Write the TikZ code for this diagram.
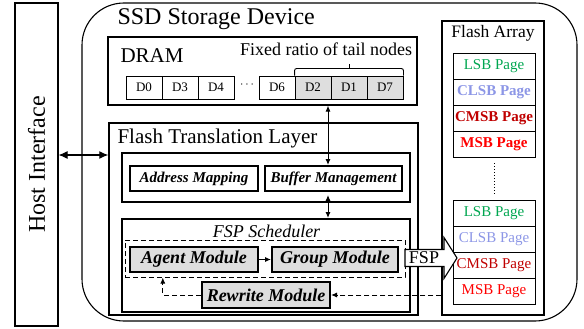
\documentclass[tikz,border=0pt]{standalone}
\usepackage{fontspec}
\setmainfont{Liberation Serif}
\usetikzlibrary{calc,arrows.meta}
\definecolor{lsbc}{RGB}{0,166,80}
\definecolor{clsbc}{RGB}{140,150,230}
\definecolor{cmsbc}{RGB}{192,0,0}
\definecolor{msbc}{RGB}{255,0,0}
\definecolor{modgray}{RGB}{222,222,222}
\begin{document}
\begin{tikzpicture}[x=1pt,y=-1pt,
  fs/.style={font=\fontsize{#1}{#1}\selectfont},
  plain/.style={draw, line width=1.1pt, inner sep=0pt},
  thickbox/.style={draw, line width=2pt, inner sep=0pt},
  smod/.style={thickbox, font=\fontsize{15}{15}\selectfont\bfseries\itshape},
  bmod/.style={thickbox, fill=modgray, font=\fontsize{18}{18}\selectfont\bfseries\itshape},
  cell/.style={draw, line width=0.9pt, minimum width=36pt, minimum height=23pt, inner sep=0pt, font=\fontsize{13}{13}\selectfont},
  tailcell/.style={cell, fill=modgray},
  page/.style={draw, line width=0.9pt, minimum width=82pt, minimum height=26pt, inner sep=0pt, font=\fontsize{15}{15}\selectfont},
  dashln/.style={line width=1pt, dash pattern=on 5pt off 3pt},
  tip/.style={-{Latex[length=6pt,width=5pt]}},
  btip/.style={{Latex[length=6pt,width=5pt]}-{Latex[length=6pt,width=5pt]}},
]
\path[use as bounding box] (0,0) rectangle (584,329);

% Host interface
\node[plain, minimum width=43pt, minimum height=323pt] (host) at (36.5,164.5) {};
\node[fs=24, rotate=90] (hostlbl) at (host.center) {Host Interface};

% SSD outer
\node[draw, line width=1.1pt, rounded corners=42pt, minimum width=495pt, minimum height=318pt] (ssd) at (329.5,162) {};
\node[fs=24, anchor=west] (ssdlbl) at (114,19) {SSD Storage Device};

% DRAM
\node[plain, minimum width=309pt, minimum height=68pt] (dram) at (262.5,71) {};
\node[fs=21, anchor=west] (dramlbl) at (117,56) {DRAM};
\node[fs=18] (fixlbl) at (326,49) {Fixed ratio of tail nodes};
\node[cell] (d0) at (144,87.5) {D0};
\node[cell] (d3) at (180,87.5) {D3};
\node[cell] (d4) at (216,87.5) {D4};
\node[fs=13] (dots) at (247,85) {$\cdots$};
\node[cell] (d6) at (277,87.5) {D6};
\node[tailcell] (d2) at (313,87.5) {D2};
\node[tailcell] (d1) at (349,87.5) {D1};
\node[tailcell] (d7) at (385,87.5) {D7};
\draw[line width=0.9pt, rounded corners=2pt] (d2.north west) -- ++(0,-7) -- ($(d7.north east)+(0,-7)$) -- (d7.north east);
\draw[line width=0.9pt] ($(d1.north)+(0,-7)$) -- ++(0,-5);

% FTL
\node[draw, line width=1.4pt, minimum width=309pt, minimum height=192pt] (ftl) at (263.5,219) {};
\node[fs=21, anchor=west] (ftllbl) at (114,138) {Flash Translation Layer};
\node[thickbox, minimum width=288pt, minimum height=49pt] (inner) at (266,177.5) {};
\node[smod, minimum width=128pt, minimum height=25pt] (addr) at (194,178.5) {Address Mapping};
\node[smod, minimum width=137pt, minimum height=25pt] (buf) at (333.5,178.5) {Buffer Management};

\node[thickbox, minimum width=288pt, minimum height=93pt] (sched) at (266,265.5) {};
\node[fs=18, font=\fontsize{18}{18}\selectfont\itshape] (schedlbl) at (266.5,231) {FSP Scheduler};
\node[draw, dashln, minimum width=280pt, minimum height=37pt] (dbox) at (265,258.5) {};
\node[bmod, minimum width=128pt, minimum height=25pt] (agent) at (194,259.5) {Agent Module};
\node[bmod, minimum width=126pt, minimum height=25pt] (group) at (335,259.5) {Group Module};
\node[bmod, minimum width=128pt, minimum height=26pt] (rewrite) at (266,295) {Rewrite Module};

% Flash array
\node[plain, minimum width=102pt, minimum height=294pt] (flash) at (493,168) {};
\node[fs=17.5] (flashlbl) at (493,33) {Flash Array};
\node[page, text=lsbc] (p1) at (494,66) {LSB Page};
\node[page, text=clsbc, font=\fontsize{15}{15}\selectfont\bfseries] (p2) at (494,92) {CLSB Page};
\node[page, text=cmsbc, font=\fontsize{15}{15}\selectfont\bfseries] (p3) at (494,118) {CMSB Page};
\node[page, text=msbc, font=\fontsize{15}{15}\selectfont\bfseries] (p4) at (494,144) {MSB Page};
\node[page, text=lsbc] (q1) at (494,213) {LSB Page};
\node[page, text=clsbc] (q2) at (494,239) {CLSB Page};
\node[page, text=cmsbc] (q3) at (494,265) {CMSB Page};
\node[page, text=msbc] (q4) at (494,291) {MSB Page};
\draw[line width=1pt, dotted] ($(p4.south)+(0,6)$) -- ($(q1.north)+(0,-5)$);

% connectors
\coordinate (ax) at (328,0);
\draw[line width=1.1pt, {Latex[length=9pt,width=8pt]}-{Latex[length=9pt,width=8pt]}] (host.east |- 0,155) -- (ftl.west |- 0,155);
\draw[line width=1pt, btip] (dram.south -| ax) -- (buf.north -| ax);
\draw[line width=1pt, btip] (inner.south -| ax) ++(0,-8) -- (sched.north -| ax);
\draw[line width=1pt, tip] (agent.east) -- (group.west);
\draw[dashln, tip] (flash.west |- rewrite.east) -- (rewrite.east);
\coordinate (fb) at ($(agent.south west)!0.26!(agent.south east)$);
\draw[dashln, tip] (rewrite.west) -| (dbox.south -| fb);

% FSP block arrow
\draw[line width=1.1pt, fill=white] (405,249.5) -- (444,249.5) -- (444,237.5) -- (457,258) -- (444,278.5) -- (444,266.5) -- (405,266.5) -- cycle;
\node[fs=18] (fsplbl) at (424,258) {FSP};
\end{tikzpicture}
\end{document}
